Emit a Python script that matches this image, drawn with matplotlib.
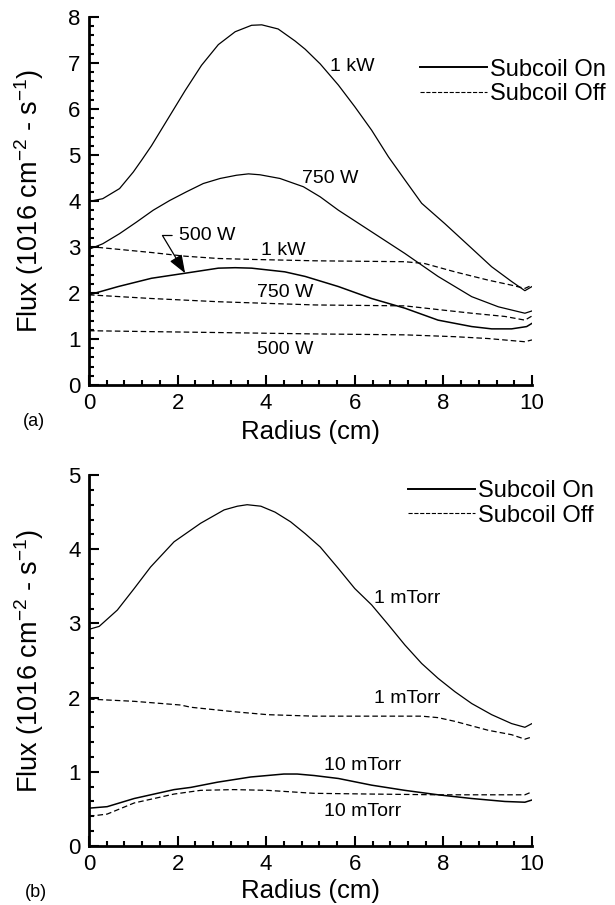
import numpy as np
import matplotlib
matplotlib.use('Agg')
import matplotlib.pyplot as plt
from matplotlib.lines import Line2D
from matplotlib.ticker import MultipleLocator

plt.rcParams['font.family'] = ['Liberation Sans', 'DejaVu Sans']
plt.rcParams['mathtext.fontset'] = 'custom'
plt.rcParams['mathtext.rm'] = 'Liberation Sans'
plt.rcParams['mathtext.it'] = 'Liberation Sans'
plt.rcParams['lines.scale_dashes'] = False

# ---- panel (a): power scan ----
r_1kw_on = [0.0, 0.31, 0.69, 1.0, 1.19, 1.41, 1.79, 2.17, 2.54, 2.92, 3.3, 3.67, 3.9,
            4.27, 4.65, 4.88, 5.22, 5.63, 6.0, 6.38, 6.76, 7.13, 7.51, 8.03, 8.64, 9.09,
            9.54, 9.84, 10.0]
f_1kw_on = [3.99, 4.05, 4.27, 4.63, 4.89, 5.20, 5.80, 6.40, 6.95, 7.40, 7.68, 7.82, 7.83,
            7.74, 7.48, 7.30, 6.98, 6.52, 6.05, 5.54, 4.96, 4.46, 3.95, 3.51, 2.97, 2.57,
            2.25, 2.05, 2.14]
r_750_on = [0.0, 0.31, 0.69, 1.07, 1.45, 1.82, 2.2, 2.58, 2.96, 3.33, 3.6, 3.86, 4.31,
            4.84, 5.22, 5.63, 6.38, 7.13, 7.88, 8.26, 8.64, 9.24, 9.84, 10.0]
f_750_on = [2.95, 3.07, 3.29, 3.54, 3.80, 4.01, 4.20, 4.38, 4.49, 4.56, 4.59, 4.57, 4.49,
            4.31, 4.09, 3.80, 3.33, 2.86, 2.36, 2.14, 1.92, 1.70, 1.56, 1.61]
r_500_on = [0.0, 0.66, 1.41, 2.17, 2.92, 3.3, 3.67, 4.42, 4.88, 5.63, 6.38, 7.13, 7.88,
            8.64, 9.09, 9.54, 9.88, 10.0]
f_500_on = [1.96, 2.14, 2.32, 2.43, 2.54, 2.55, 2.54, 2.46, 2.36, 2.14, 1.88, 1.67, 1.41,
            1.27, 1.22, 1.22, 1.27, 1.34]
r_1kw_off = [0.0, 0.66, 1.41, 2.17, 2.92, 3.67, 5.1, 7.13, 7.58, 8.26, 9.01, 9.54, 9.84, 10.0]
f_1kw_off = [3.01, 2.95, 2.88, 2.80, 2.75, 2.73, 2.70, 2.68, 2.64, 2.46, 2.28, 2.17, 2.10, 2.17]
r_750_off = [0.0, 1.41, 2.92, 5.1, 7.13, 7.88, 8.64, 9.39, 9.84, 10.0]
f_750_off = [1.96, 1.88, 1.81, 1.74, 1.72, 1.64, 1.56, 1.49, 1.41, 1.50]
r_500_off = [0.0, 1.41, 2.92, 5.1, 7.13, 8.26, 9.01, 9.84, 10.0]
f_500_off = [1.18, 1.16, 1.14, 1.11, 1.09, 1.05, 1.01, 0.94, 0.98]

# ---- panel (b): pressure scan ----
r_1mt_on = [0.0, 0.23, 0.64, 1.02, 1.39, 1.92, 2.52, 3.05, 3.35, 3.57, 3.88, 4.2, 4.55,
            4.88, 5.22, 5.63, 6.0, 6.38, 6.76, 7.13, 7.51, 7.88, 8.26, 8.64, 9.09, 9.54,
            9.84, 10.0]
f_1mt_on = [2.92, 2.96, 3.18, 3.47, 3.76, 4.10, 4.35, 4.53, 4.58, 4.60, 4.58, 4.50, 4.37,
            4.21, 4.03, 3.74, 3.47, 3.25, 2.98, 2.71, 2.46, 2.26, 2.08, 1.92, 1.77, 1.65,
            1.60, 1.65]
r_1mt_off = [0.0, 1.02, 2.07, 2.3, 3.27, 4.03, 5.08, 7.51, 7.88, 8.26, 9.01, 9.54, 9.84, 10.0]
f_1mt_off = [1.98, 1.95, 1.90, 1.87, 1.81, 1.77, 1.75, 1.75, 1.73, 1.68, 1.56, 1.50, 1.44, 1.47]
r_10mt_on = [0.0, 0.41, 1.02, 1.92, 2.3, 2.9, 3.65, 4.4, 4.7, 5.08, 5.63, 6.38, 7.13,
             7.88, 8.64, 9.39, 9.84, 10.0]
f_10mt_on = [0.51, 0.53, 0.64, 0.76, 0.79, 0.86, 0.93, 0.97, 0.97, 0.95, 0.91, 0.82, 0.75,
             0.69, 0.64, 0.60, 0.59, 0.62]
r_10mt_off = [0.0, 0.41, 1.02, 1.92, 2.52, 3.27, 4.03, 5.08, 6.38, 7.88, 9.39, 9.84, 10.0]
f_10mt_off = [0.40, 0.43, 0.58, 0.70, 0.75, 0.76, 0.75, 0.71, 0.70, 0.69, 0.69, 0.69, 0.73]

ylabel = 'Flux (1016 cm$^{\\mathrm{-2}}$ - s$^{\\mathrm{-1}}$)'
DASH = (4, 2.2)

fig = plt.figure(figsize=(6.15, 9.05), dpi=100)
ax1 = fig.add_axes([0.1447, 0.5746, 0.7203, 0.4066])
ax2 = fig.add_axes([0.1447, 0.0652, 0.7203, 0.4099])


def style_axes(ax, ymax, xlab_y):
    ax.set_xlim(0, 10)
    ax.set_ylim(0, ymax)
    for s in ['top', 'right']:
        ax.spines[s].set_visible(False)
    for s in ['left', 'bottom']:
        ax.spines[s].set_linewidth(2)
    ax.xaxis.set_major_locator(MultipleLocator(2))
    ax.xaxis.set_minor_locator(MultipleLocator(0.4))
    ax.yaxis.set_major_locator(MultipleLocator(1))
    ax.yaxis.set_minor_locator(MultipleLocator(0.2))
    ax.tick_params(which='both', direction='in', width=1.5, labelsize=16)
    ax.tick_params(which='major', length=7.5)
    ax.tick_params(which='minor', length=3.5)
    ax.tick_params(axis='x', pad=6)
    ax.tick_params(axis='y', pad=6)
    ax.set_xlabel('Radius (cm)', fontsize=18.5, va='center')
    ax.xaxis.set_label_coords(0.5, xlab_y)
    ax.set_ylabel(ylabel, fontsize=19.5, va='center')
    ax.yaxis.set_label_coords(-0.135, 0.5)


lw = 0.9
# (a)
ax1.plot(r_1kw_on, f_1kw_on, color='k', lw=lw)
ax1.plot(r_750_on, f_750_on, color='k', lw=lw)
ax1.plot(r_500_on, f_500_on, color='k', lw=1.1)
ax1.plot(r_1kw_off, f_1kw_off, color='k', lw=lw, dashes=DASH)
ax1.plot(r_750_off, f_750_off, color='k', lw=lw, dashes=DASH)
ax1.plot(r_500_off, f_500_off, color='k', lw=lw, dashes=DASH)
style_axes(ax1, 8, -0.128)

lbl = dict(fontsize=14, ha='center', va='center')
ax1.text(5.94, 6.92, '1 kW', **lbl)
ax1.text(5.44, 4.50, '750 W', **lbl)
ax1.text(4.39, 2.93, '1 kW', **lbl)
ax1.text(4.42, 2.00, '750 W', **lbl)
ax1.text(4.42, 0.78, '500 W', **lbl)
ax1.annotate('500 W', xy=(2.17, 2.43), xytext=(2.67, 3.25), fontsize=14,
             ha='center', va='center',
             arrowprops=dict(arrowstyle='-|>,head_length=0.8,head_width=0.3',
                             connectionstyle='angle,angleA=0,angleB=121,rad=0',
                             color='k', lw=0.9, relpos=(0, 0.5),
                             shrinkA=3, shrinkB=0))

# (b)
ax2.plot(r_1mt_on, f_1mt_on, color='k', lw=lw)
ax2.plot(r_10mt_on, f_10mt_on, color='k', lw=1.1)
ax2.plot(r_1mt_off, f_1mt_off, color='k', lw=lw, dashes=DASH)
ax2.plot(r_10mt_off, f_10mt_off, color='k', lw=lw, dashes=DASH)
style_axes(ax2, 5, -0.121)

ax2.text(7.19, 3.34, '1 mTorr', **lbl)
ax2.text(7.19, 1.99, '1 mTorr', **lbl)
ax2.text(6.17, 1.09, '10 mTorr', **lbl)
ax2.text(6.17, 0.46, '10 mTorr', **lbl)

# legends
handles = [Line2D([], [], color='k', lw=1.4),
           Line2D([], [], color='k', lw=0.8, dashes=(3, 1.2))]
names = ['Subcoil On', 'Subcoil Off']
for ax, anchor in [(ax1, (0.747, 0.887)), (ax2, (0.72, 0.986))]:
    ax.legend(handles, names, loc='upper left', bbox_to_anchor=anchor,
              frameon=False, fontsize=17, handlelength=2.84, handletextpad=0.13,
              labelspacing=0.1, borderpad=0, borderaxespad=0)

fig.text(0.055, 1 - 421 / 905, '(a)', fontsize=13, ha='center', va='center')
fig.text(0.058, 1 - 892 / 905, '(b)', fontsize=13, ha='center', va='center')

fig.savefig('out.png', dpi=100)
